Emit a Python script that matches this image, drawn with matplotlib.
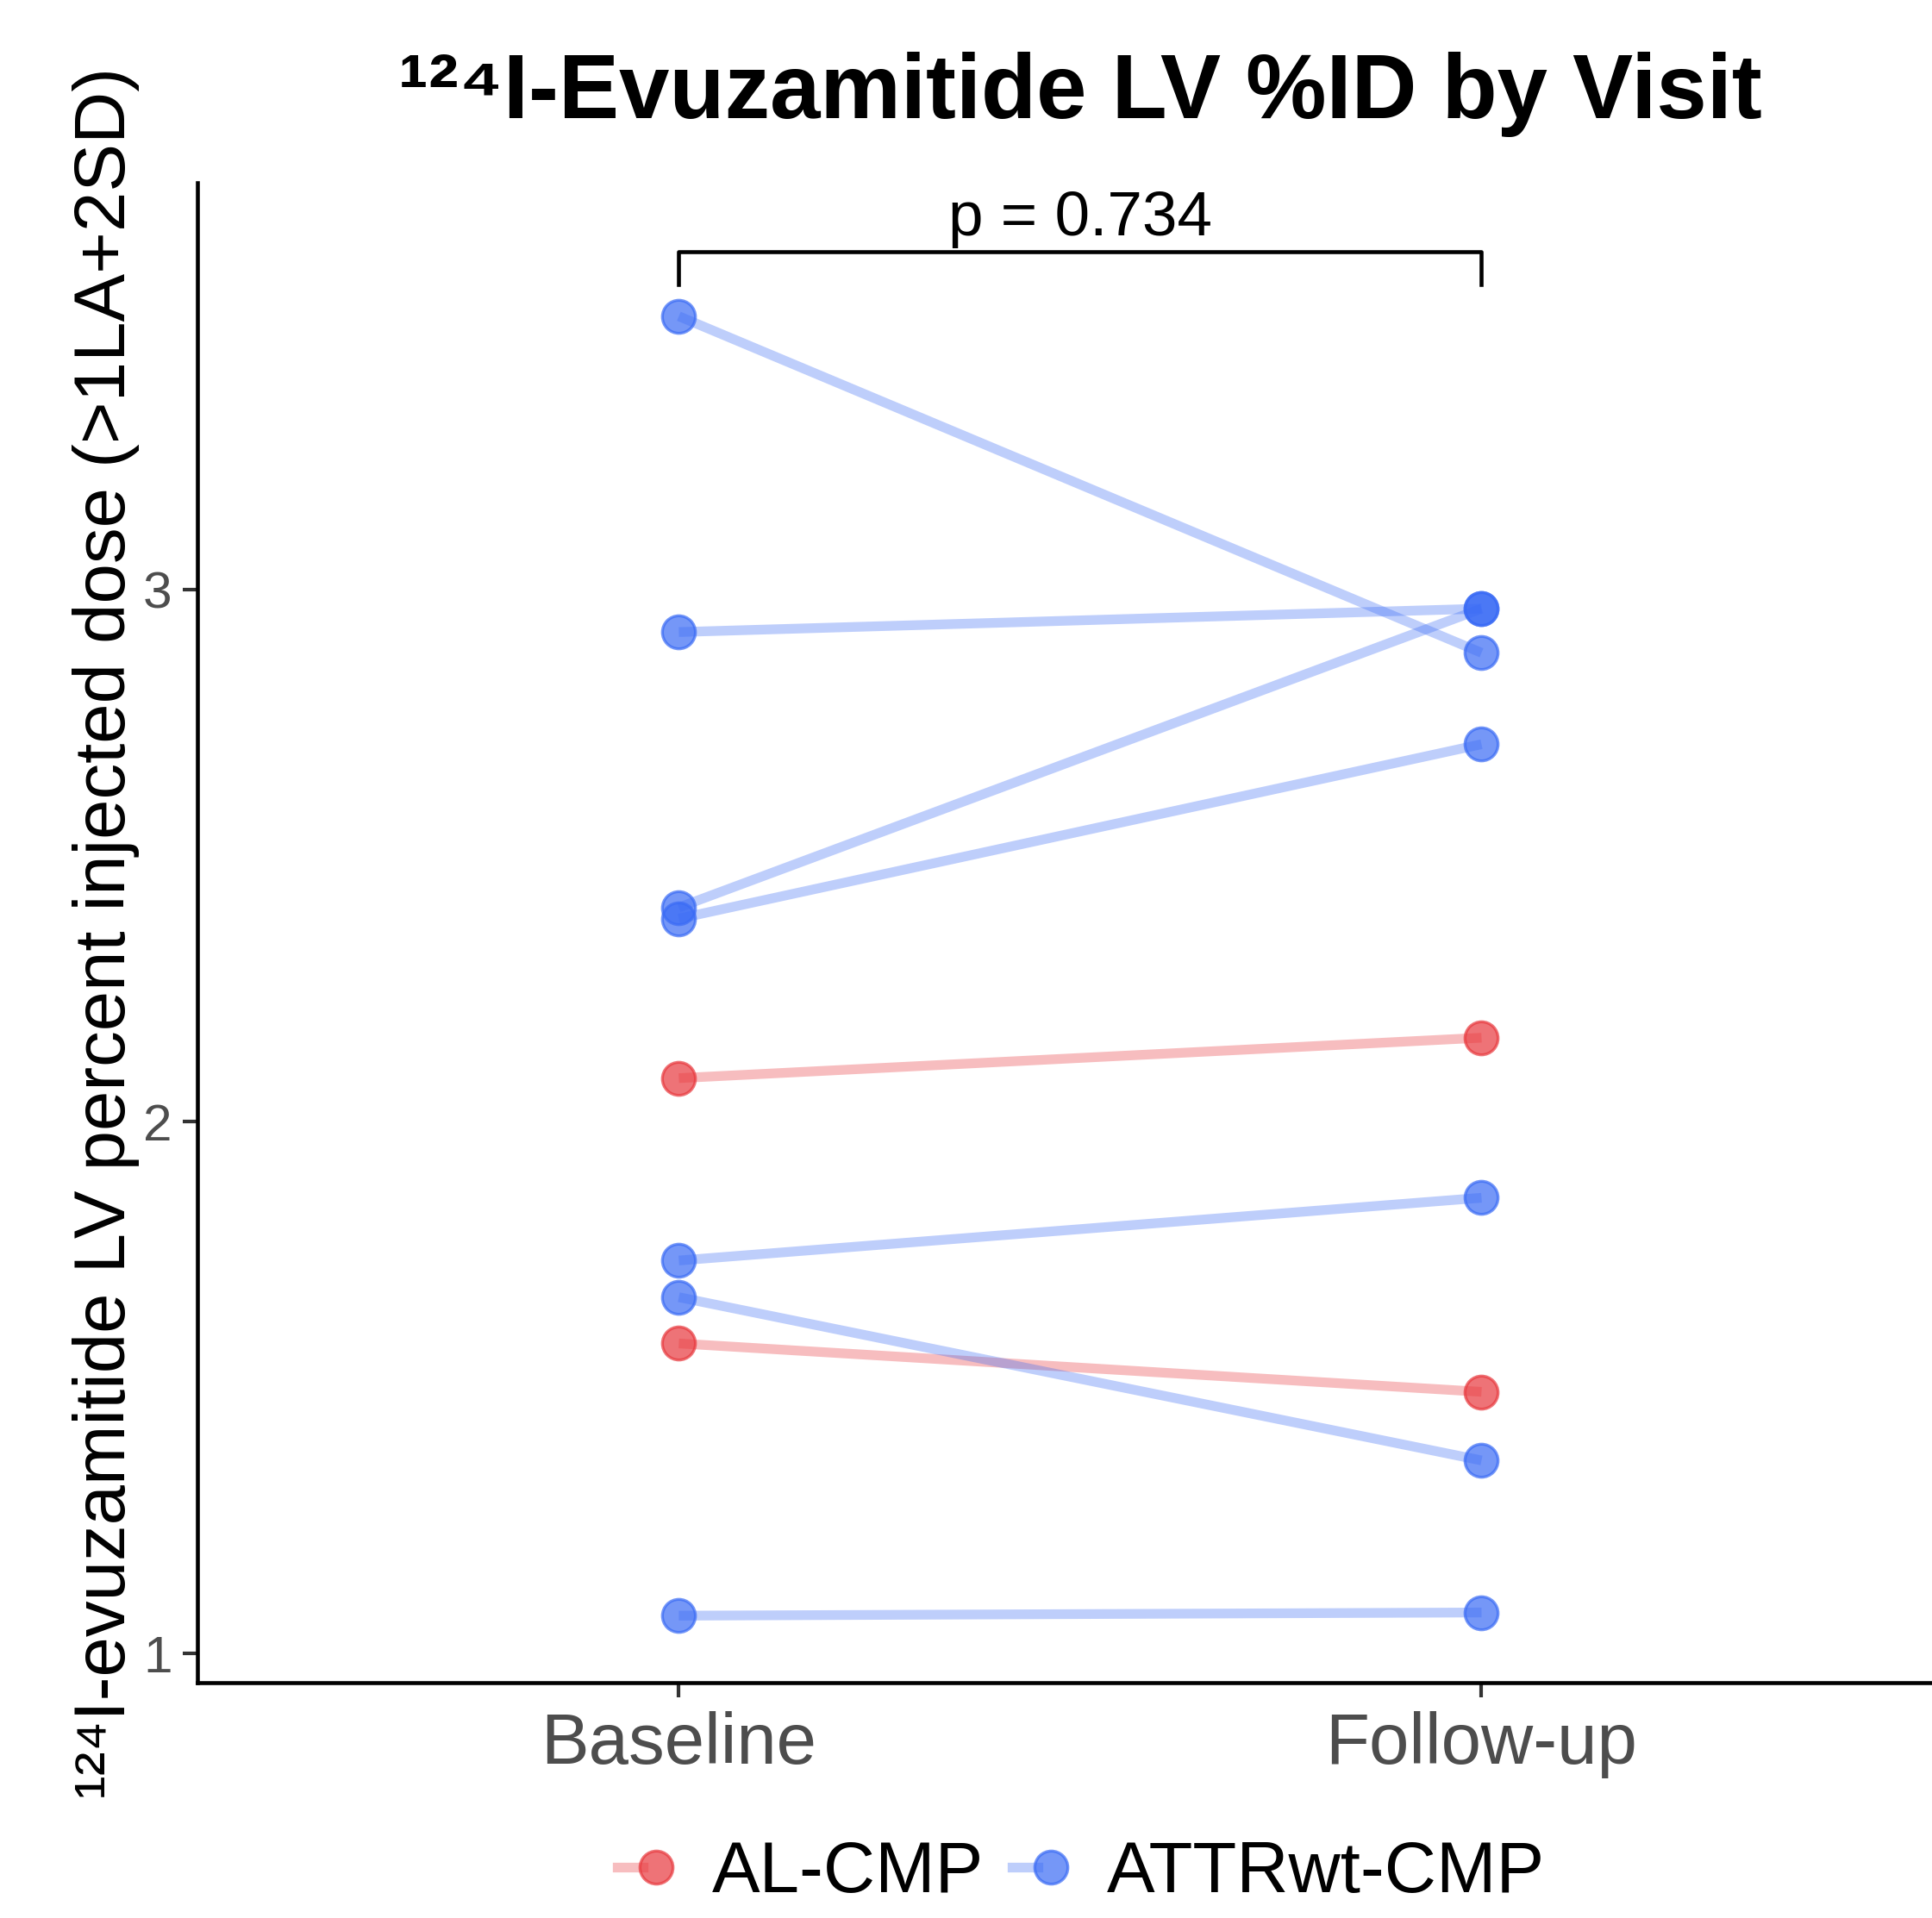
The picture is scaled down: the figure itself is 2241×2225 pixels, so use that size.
import matplotlib
matplotlib.use("Agg")
import matplotlib.pyplot as plt
from matplotlib.lines import Line2D
from matplotlib.legend_handler import HandlerTuple

plt.rcParams['font.family'] = ['Liberation Sans', 'DejaVu Sans']

visits = ["Baseline", "Follow-up"]
groups = ["AL-CMP", "ATTRwt-CMP"]

# paired values per patient (baseline, follow-up)
al_baseline = [2.082, 1.583]
al_followup = [2.158, 1.492]
attr_baseline = [3.515, 2.921, 2.403, 2.382, 1.739, 1.670, 1.071]
attr_followup = [2.882, 2.965, 2.965, 2.710, 1.857, 1.363, 1.077]

p_text = "p = 0.734"
y_ticks = [1, 2, 3]

colors = {"AL-CMP": "#E8383D", "ATTRwt-CMP": "#3A6BF5"}
data = {"AL-CMP": (al_baseline, al_followup),
        "ATTRwt-CMP": (attr_baseline, attr_followup)}

fig = plt.figure(figsize=(2241 / 300, 2225 / 300), dpi=300)
ax = fig.add_axes([0.1021, 0.1227, 0.914, 0.782])

x = [1, 2]
for g in groups:
    b, f = data[g]
    for yb, yf in zip(b, f):
        ax.plot(x, [yb, yf], color=colors[g], alpha=0.33, lw=2.7,
                solid_capstyle='butt', zorder=2)
for g in groups:
    b, f = data[g]
    for yb, yf in zip(b, f):
        ax.plot(x, [yb, yf], ls='none', marker='o', ms=9.2,
                mfc=colors[g], mec=colors[g], mew=0.8, alpha=0.7, zorder=3)

# significance bracket
ax.plot([1, 1, 2, 2], [3.575, 3.637, 3.637, 3.575], color='black', lw=1.1,
        zorder=4, clip_on=False)
ax.text(1.5, 3.667, p_text, ha='center', va='baseline', fontsize=17.5)

ax.set_xlim(0.4, 2.6)
ax.set_ylim(0.945, 3.766)
ax.set_xticks(x)
ax.set_xticklabels(visits)
ax.set_yticks(y_ticks)
ax.tick_params(axis='x', labelsize=20, labelcolor='#4D4D4D', length=4,
               width=1.0, color='#333333', pad=4)
ax.tick_params(axis='y', labelsize=14.5, labelcolor='#4D4D4D', length=4,
               width=1.0, color='#333333', pad=3)
for s in ['top', 'right']:
    ax.spines[s].set_visible(False)
for s in ['left', 'bottom']:
    ax.spines[s].set_linewidth(1.1)
    ax.spines[s].set_color('black')

ax.set_ylabel("¹²⁴I-evuzamitide LV percent injected dose (>1LA+2SD)",
              fontsize=20, labelpad=1)
ax.set_title("¹²⁴I-Evuzamitide LV %ID by Visit", fontsize=25.2,
             fontweight='bold', pad=18)

handles = []
for g in groups:
    ln = Line2D([], [], color=colors[g], alpha=0.33, lw=2.7)
    mk = Line2D([], [], ls='none', marker='o', ms=9.2, mfc=colors[g],
                mec=colors[g], mew=0.8, alpha=0.7)
    handles.append((ln, mk))
fig.legend(handles, groups, handler_map={tuple: HandlerTuple(ndivide=None)},
           loc='lower center', bbox_to_anchor=(0.5596, -0.013), ncol=2,
           frameon=False, fontsize=20, handlelength=0.72,
           handletextpad=0.6, columnspacing=0.4, borderpad=0)

fig.savefig("out.png", dpi=300)
